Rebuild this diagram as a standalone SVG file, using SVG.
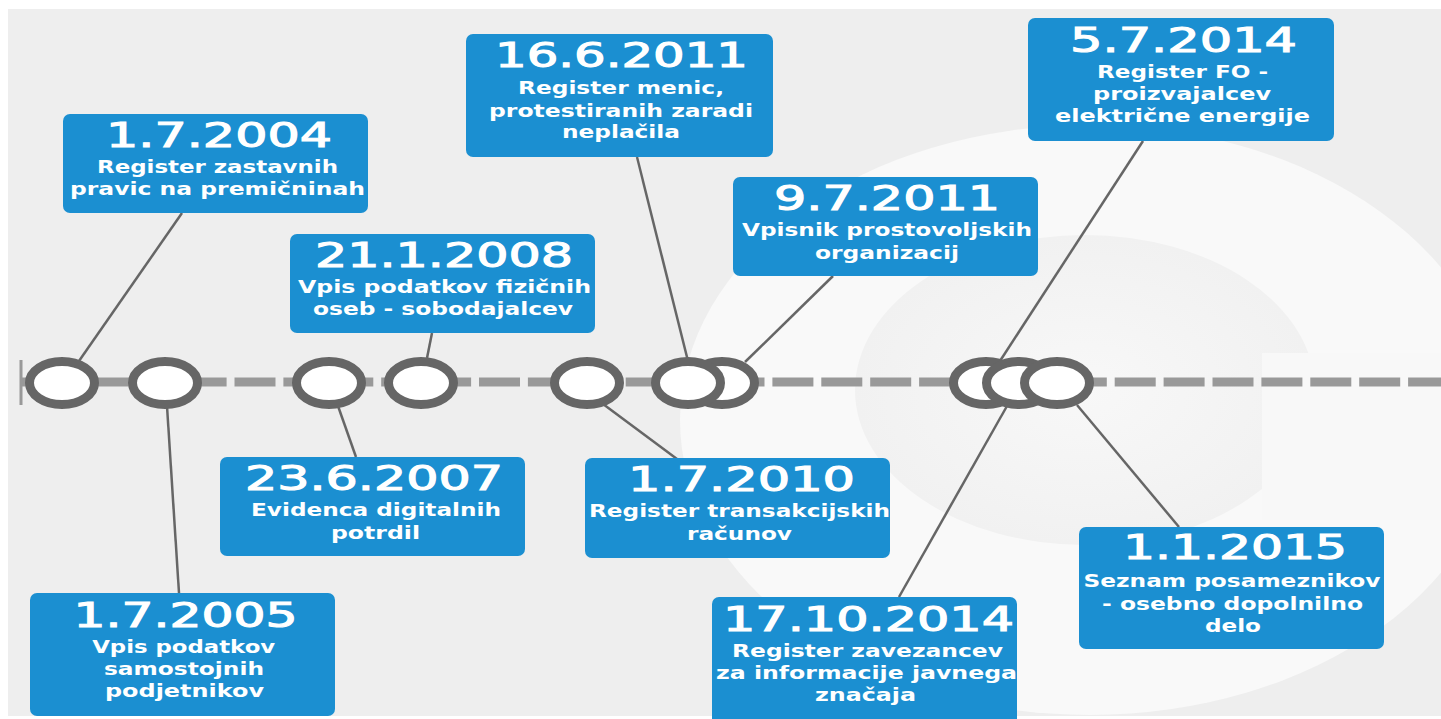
<svg xmlns="http://www.w3.org/2000/svg" width="1441" height="719" viewBox="0 0 1441 719">
<style>
.box{fill:#1b8fd1}
.d{font-family:"DejaVu Sans","Liberation Sans",sans-serif;font-size:34px;fill:#ffffff;stroke:#ffffff;stroke-width:1.1;text-anchor:middle}
.t{font-family:"DejaVu Sans","Liberation Sans",sans-serif;font-size:17px;font-weight:bold;fill:#ffffff;text-anchor:middle}
.c{fill:none;stroke:#666666;stroke-width:2.5}
.dot{fill:#ffffff;stroke:#666666;stroke-width:9}
</style>
<defs>
<radialGradient id="inner" cx="0.5" cy="0.5" r="0.5">
<stop offset="0" stop-color="#f8f8f8"/>
<stop offset="1" stop-color="#f1f1f1"/>
</radialGradient>
</defs>
<rect x="0" y="0" width="1441" height="719" fill="#ffffff"/>
<rect x="8" y="9" width="1433" height="707" fill="#eeeeee"/>
<g id="background">
<ellipse cx="1090" cy="420" rx="410" ry="295" fill="#f9f9f9"/>
<ellipse cx="1085" cy="390" rx="230" ry="155" fill="url(#inner)"/>
<rect x="1262" y="353" width="179" height="167" fill="#f8f8f8"/>
</g>
<g id="timeline">
<line x1="20" y1="382" x2="1441" y2="382" stroke="#999999" stroke-width="9" stroke-dasharray="41 7.9" stroke-dashoffset="30"/>
<line x1="21" y1="360" x2="21" y2="405" stroke="#999999" stroke-width="3"/>
</g>
<g id="connectors">
<line class="c" x1="182" y1="213" x2="79" y2="361"/>
<line class="c" x1="167" y1="406" x2="179" y2="593"/>
<line class="c" x1="338" y1="406" x2="356" y2="457"/>
<line class="c" x1="432" y1="333" x2="427" y2="358"/>
<line class="c" x1="603" y1="404" x2="677" y2="459"/>
<line class="c" x1="637" y1="157" x2="688" y2="361"/>
<line class="c" x1="833" y1="276" x2="745" y2="362"/>
<line class="c" x1="1143" y1="141" x2="1000" y2="361"/>
<line class="c" x1="1007" y1="406" x2="899" y2="597"/>
<line class="c" x1="1077" y1="405" x2="1179" y2="527"/>
</g>
<g id="markers">
<ellipse class="dot" cx="62" cy="383" rx="32.5" ry="21.5"/>
<ellipse class="dot" cx="165" cy="383" rx="32.5" ry="21.5"/>
<ellipse class="dot" cx="329" cy="383" rx="32.5" ry="21.5"/>
<ellipse class="dot" cx="421" cy="383" rx="32.5" ry="21.5"/>
<ellipse class="dot" cx="587" cy="383" rx="32.5" ry="21.5"/>
<ellipse class="dot" cx="722" cy="383" rx="32.5" ry="21.5"/>
<ellipse class="dot" cx="688" cy="383" rx="32.5" ry="21.5"/>
<ellipse class="dot" cx="986" cy="383" rx="32.5" ry="21.5"/>
<ellipse class="dot" cx="1019" cy="383" rx="32.5" ry="21.5"/>
<ellipse class="dot" cx="1057" cy="383" rx="32.5" ry="21.5"/>
</g>
<g id="n2004">
<rect class="box" x="63" y="114" width="305" height="99" rx="7"/>
<text class="d" x="219" y="147" textLength="226" lengthAdjust="spacingAndGlyphs">1.7.2004</text>
<text class="t" x="217.5" y="173" textLength="241" lengthAdjust="spacingAndGlyphs">Register zastavnih</text>
<text class="t" x="217.5" y="195" textLength="295" lengthAdjust="spacingAndGlyphs">pravic na premičninah</text>
</g>
<g id="n2005">
<rect class="box" x="30" y="593" width="305" height="123" rx="7"/>
<text class="d" x="185.6" y="627" textLength="224" lengthAdjust="spacingAndGlyphs">1.7.2005</text>
<text class="t" x="183.7" y="653" textLength="183" lengthAdjust="spacingAndGlyphs">Vpis podatkov</text>
<text class="t" x="184" y="675" textLength="160" lengthAdjust="spacingAndGlyphs">samostojnih</text>
<text class="t" x="184.5" y="697" textLength="159" lengthAdjust="spacingAndGlyphs">podjetnikov</text>
</g>
<g id="n2007">
<rect class="box" x="220" y="457" width="305" height="99" rx="7"/>
<text class="d" x="374" y="490" textLength="258" lengthAdjust="spacingAndGlyphs">23.6.2007</text>
<text class="t" x="376" y="516" textLength="250" lengthAdjust="spacingAndGlyphs">Evidenca digitalnih</text>
<text class="t" x="375.5" y="539" textLength="89" lengthAdjust="spacingAndGlyphs">potrdil</text>
</g>
<g id="n2008">
<rect class="box" x="290" y="234" width="305" height="99" rx="7"/>
<text class="d" x="444" y="267" textLength="258" lengthAdjust="spacingAndGlyphs">21.1.2008</text>
<text class="t" x="444.5" y="293" textLength="293" lengthAdjust="spacingAndGlyphs">Vpis podatkov fizičnih</text>
<text class="t" x="443" y="315" textLength="260" lengthAdjust="spacingAndGlyphs">oseb - sobodajalcev</text>
</g>
<g id="n2010">
<rect class="box" x="585" y="458" width="305" height="100" rx="7"/>
<text class="d" x="741.5" y="491" textLength="227" lengthAdjust="spacingAndGlyphs">1.7.2010</text>
<text class="t" x="739.5" y="517" textLength="301" lengthAdjust="spacingAndGlyphs">Register transakcijskih</text>
<text class="t" x="739.5" y="540" textLength="105" lengthAdjust="spacingAndGlyphs">računov</text>
</g>
<g id="n2011a">
<rect class="box" x="466" y="34" width="307" height="123" rx="7"/>
<text class="d" x="621.5" y="67" textLength="253" lengthAdjust="spacingAndGlyphs">16.6.2011</text>
<text class="t" x="621" y="94" textLength="206" lengthAdjust="spacingAndGlyphs">Register menic,</text>
<text class="t" x="621" y="117" textLength="264" lengthAdjust="spacingAndGlyphs">protestiranih zaradi</text>
<text class="t" x="621" y="138" textLength="118" lengthAdjust="spacingAndGlyphs">neplačila</text>
</g>
<g id="n2011b">
<rect class="box" x="733" y="177" width="305" height="99" rx="7"/>
<text class="d" x="887" y="210" textLength="226" lengthAdjust="spacingAndGlyphs">9.7.2011</text>
<text class="t" x="887" y="236" textLength="290" lengthAdjust="spacingAndGlyphs">Vpisnik prostovoljskih</text>
<text class="t" x="887" y="259" textLength="144" lengthAdjust="spacingAndGlyphs">organizacij</text>
</g>
<g id="n2014a">
<rect class="box" x="1028" y="18" width="306" height="123" rx="7"/>
<text class="d" x="1183.5" y="52" textLength="227" lengthAdjust="spacingAndGlyphs">5.7.2014</text>
<text class="t" x="1182.5" y="78" textLength="171" lengthAdjust="spacingAndGlyphs">Register FO -</text>
<text class="t" x="1182" y="100" textLength="178" lengthAdjust="spacingAndGlyphs">proizvajalcev</text>
<text class="t" x="1182.5" y="122" textLength="255" lengthAdjust="spacingAndGlyphs">električne energije</text>
</g>
<g id="n2014b">
<rect class="box" x="712" y="597" width="305" height="130" rx="7"/>
<text class="d" x="868.5" y="631" textLength="291" lengthAdjust="spacingAndGlyphs">17.10.2014</text>
<text class="t" x="867.5" y="657" textLength="271" lengthAdjust="spacingAndGlyphs">Register zavezancev</text>
<text class="t" x="866.5" y="679" textLength="301" lengthAdjust="spacingAndGlyphs">za informacije javnega</text>
<text class="t" x="865.5" y="701" textLength="101" lengthAdjust="spacingAndGlyphs">značaja</text>
</g>
<g id="n2015">
<rect class="box" x="1079" y="527" width="305" height="122" rx="7"/>
<text class="d" x="1235" y="559" textLength="224" lengthAdjust="spacingAndGlyphs">1.1.2015</text>
<text class="t" x="1232" y="587" textLength="297" lengthAdjust="spacingAndGlyphs">Seznam posameznikov</text>
<text class="t" x="1232.5" y="610" textLength="261" lengthAdjust="spacingAndGlyphs">- osebno dopolnilno</text>
<text class="t" x="1233" y="632" textLength="56" lengthAdjust="spacingAndGlyphs">delo</text>
</g>
</svg>
